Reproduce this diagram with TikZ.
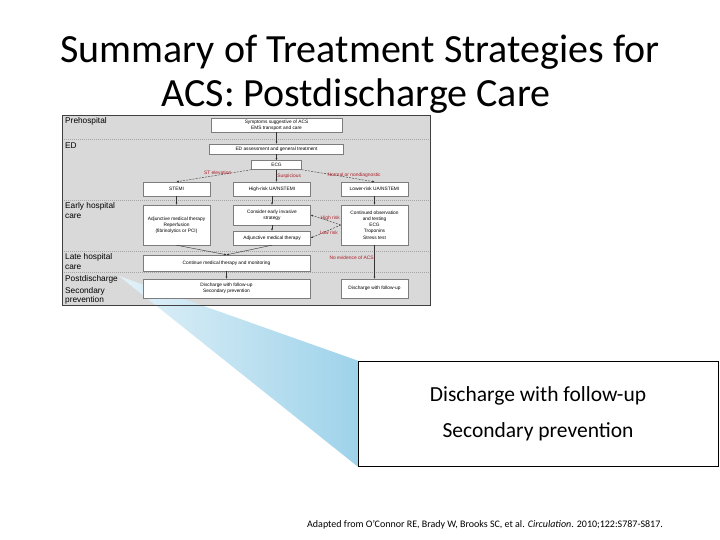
\documentclass[tikz,border=0pt]{standalone}
\usepackage{fontspec}
\setmainfont{Carlito}
\newfontfamily\chartfont{Liberation Sans}
\usetikzlibrary{arrows.meta}
\definecolor{panelcolor}{RGB}{217, 217, 217}
\definecolor{boxline}{RGB}{125, 125, 125}
\definecolor{sepcolor}{RGB}{165, 165, 165}
\definecolor{notecolor}{RGB}{175, 30, 40}
\definecolor{wedgelight}{RGB}{226, 241, 248}
\definecolor{wedgedark}{RGB}{158, 211, 234}

\begin{document}
\begin{tikzpicture}[x=1pt, y=-1pt,
    box/.style={draw=boxline, fill=white, line width=0.4pt, inner sep=0pt, align=center,
      font=\chartfont\fontsize{4.8}{6.2}\selectfont},
    rowlabel/.style={anchor=base west, inner sep=0pt, font=\chartfont\fontsize{8.3}{9}\selectfont},
    flow/.style={-{Latex[length=2.2pt, width=2pt]}, line width=0.4pt, black!80},
    branch/.style={flow, dash pattern=on 2pt off 1.2pt},
    note/.style={notecolor, inner sep=0.6pt, font=\chartfont\fontsize{4.9}{5.5}\selectfont},
    separator/.style={sepcolor, line width=0.4pt, dash pattern=on 1pt off 1pt},
  ]

  \useasboundingbox (0,0) rectangle (720,540);

  % --- Title ---
  \node[anchor=base, inner sep=0pt, font=\fontsize{40}{44}\selectfont] (title1) at (360,63)
    {Summary of Treatment Strategies for};
  \node[anchor=base, inner sep=0pt, font=\fontsize{40}{44}\selectfont] (title2) at (356,107)
    {ACS: Postdischarge Care};

  % --- Flowchart panel ---
  \fill[panelcolor] (62,115) rectangle (430,305);
  \foreach \y in {139.5, 200, 251.5, 272.5} {
    \draw[separator] (62,\y) -- (430,\y);
  }

  % Row labels
  \node[rowlabel] (lpre) at (65,124) {Prehospital};
  \node[rowlabel] (led) at (65,149) {ED};
  \node[rowlabel] (learly) at (65,208.5) {Early hospital};
  \node[rowlabel] (learly2) at (65,218.5) {care};
  \node[rowlabel] (llate) at (65,259.5) {Late hospital};
  \node[rowlabel] (llate2) at (65,269.5) {care};
  \node[rowlabel] (lpost) at (65,281) {Postdischarge};
  \node[rowlabel] (lsec) at (65,293.5) {Secondary};
  \node[rowlabel] (lsec2) at (65,302.5) {prevention};

  % --- Callout box and wedge ---
  \node[draw=black, line width=0.9pt, fill=white, minimum width=360pt, minimum height=105pt,
    align=center, font=\fontsize{21.5}{36}\selectfont] (callout) at (538,413.5)
    {Discharge with follow-up\\Secondary prevention};
  \coordinate (apex) at (119,276);
  \shade[left color=wedgelight, right color=wedgedark]
    (apex) -- (callout.north west) -- (callout.south west) -- cycle;

  % --- Boxes ---
  \node[box, minimum width=131pt, minimum height=14pt] (sym) at (276.5,125)
    {Symptoms suggestive of ACS\\EMS transport and care};
  \node[box, minimum width=134pt, minimum height=10pt] (ed) at (276.5,149)
    {ED assessment and general treatment};
  \node[box, minimum width=50pt, minimum height=9pt] (ecg) at (276.5,165) {ECG};
  \node[box, minimum width=67pt, minimum height=14pt] (stemi) at (176.5,189) {STEMI};
  \node[box, minimum width=77pt, minimum height=14pt] (hrisk) at (272,189) {High-risk UA/NSTEMI};
  \node[box, minimum width=67pt, minimum height=14pt] (lrisk) at (374.5,189) {Lower-risk UA/NSTEMI};
  \node[box, minimum width=67pt, minimum height=40pt] (adjl) at (176.5,225)
    {Adjunctive medical therapy\\Reperfusion\\(fibrinolytics or PCI)};
  \node[box, minimum width=77pt, minimum height=20pt] (cei) at (272,215)
    {Consider early invasive\\strategy};
  \node[box, minimum width=77pt, minimum height=14pt] (adjm) at (272,238) {Adjunctive medical therapy};
  \node[box, minimum width=67pt, minimum height=40pt] (cot) at (374.5,225)
    {Continued observation\\and testing\\ECG\\Troponins\\Stress test};
  \node[box, minimum width=167pt, minimum height=16pt] (cmt) at (226.5,263)
    {Continue medical therapy and monitoring};
  \node[box, minimum width=167pt, minimum height=19pt] (dis) at (226.5,288.5)
    {Discharge with follow-up\\Secondary prevention};
  \node[box, minimum width=67pt, minimum height=19pt] (disr) at (374.5,288.5)
    {Discharge with follow-up};

  % --- Connectors ---
  \draw[flow] (sym) -- (ed);
  \draw[flow] (ed) -- (ecg);
  \draw[branch] (ecg.south west) -- (stemi.north) node[note, pos=0.45, above] {ST elevation};
  \draw[flow] (ecg.south) -- (ecg.south |- hrisk.north) node[note, midway, right] {Suspicious};
  \draw[branch] (ecg.south east) -- (lrisk.north) node[note, pos=0.72, above] {Normal or nondiagnostic};
  \draw[flow] (stemi) -- (adjl);
  \draw[flow] (hrisk) -- (cei);
  \draw[flow] (lrisk) -- (cot);
  \draw[flow] (cei) -- (adjm);
  \draw[branch] (cot.west) -- (cei.east) node[note, pos=0.35, above] {High risk};
  \draw[branch] (cot.west) -- (adjm.east) node[note, pos=0.4, below] {Low risk};
  \draw[flow] (adjl.south) -- (cmt.north);
  \draw[flow] (adjm.south) -- (cmt.north);
  \draw[flow] (cmt) -- (dis);
  \draw[flow] (cot) -- (disr) node[note, pos=0.38, left] {No evidence of ACS};

  % Panel frame
  \draw[line width=0.8pt, black!75] (62,115) rectangle (430,305);

  % --- Source ---
  \node[anchor=base west, inner sep=0pt, font=\fontsize{10}{12}\selectfont] (source) at (307,527)
    {Adapted from O'Connor RE, Brady W, Brooks SC, et al. \textit{Circulation}. 2010;122:S787-S817.};

\end{tikzpicture}
\end{document}
